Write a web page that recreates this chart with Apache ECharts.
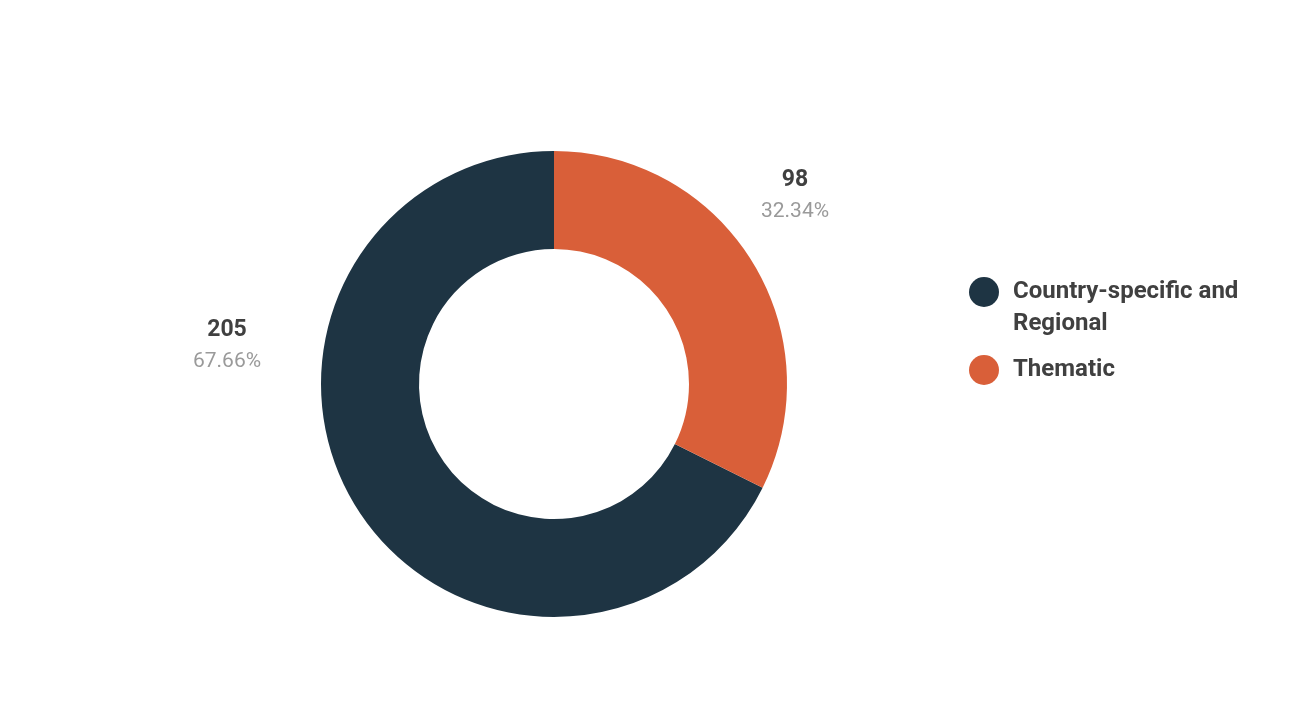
<!DOCTYPE html>
<html>
<head>
<meta charset="utf-8">
<script src="https://cdn.jsdelivr.net/npm/echarts@6/dist/echarts.min.js"></script>
<style>
html,body{margin:0;padding:0;background:#fff;}
#chart{width:1300px;height:720px;}
</style>
</head>
<body>
<div id="chart"></div>
<script>
const categories = ['Country-specific and Regional', 'Thematic'];
const values = [205, 98];
const colors = ['#1e3443', '#d95f39'];
const legendLabels = ['\nCountry-specific and\nRegional', 'Thematic'];

const labelPos = [[227, 346], [795, 196]];

const chart = echarts.init(document.getElementById('chart'));
chart.setOption({
  animation: false,
  backgroundColor: '#ffffff',
  textStyle: { fontFamily: 'Roboto' },
  legend: {
    orient: 'vertical',
    left: 969,
    top: 244,
    padding: 0,
    itemWidth: 30,
    itemHeight: 30,
    itemGap: 14,
    icon: 'circle',
    itemStyle: { borderWidth: 0 },
    formatter: function (name) { return legendLabels[categories.indexOf(name)]; },
    data: categories,
    textStyle: {
      fontFamily: 'Roboto',
      fontWeight: 'bold',
      fontSize: 24,
      lineHeight: 32,
      color: '#404040',
      padding: [0, 0, 0, 9]
    }
  },
  series: [{
    type: 'pie',
    center: [554, 384],
    radius: [135, 233],
    startAngle: 90,
    clockwise: false,
    silent: true,
    data: categories.map((c, i) => ({ name: c, value: values[i], itemStyle: { color: colors[i] } })),
    label: {
      show: true,
      position: 'outside',
      formatter: function (p) { return '{v|' + p.value + '}\n{p|' + p.percent.toFixed(2) + '%}'; },
      rich: {
        v: { fontFamily: 'Roboto', fontWeight: 'bold', fontSize: 23, color: '#404040', lineHeight: 32, align: 'center' },
        p: { fontFamily: 'Roboto', fontSize: 21, color: '#9a9a9a', lineHeight: 32, align: 'center' }
      }
    },
    labelLine: { show: false },
    labelLayout: function (params) {
      const pos = labelPos[params.dataIndex];
      return { x: pos[0], y: pos[1], align: 'center', verticalAlign: 'middle' };
    }
  }]
});
</script>
</body>
</html>
